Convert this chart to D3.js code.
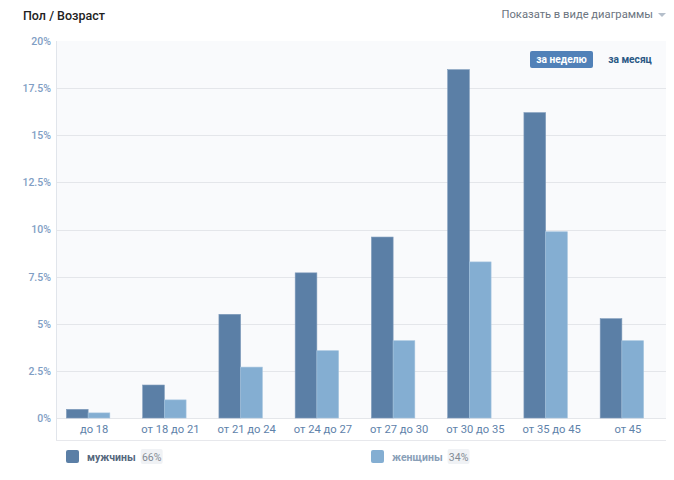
<!DOCTYPE html>
<html>
<head>
<meta charset="utf-8">
<script src="https://cdn.jsdelivr.net/npm/d3@7"></script>
<style>
  body { margin: 0; background: #fff; font-family: Roboto, "Open Sans", sans-serif; }
  svg text { font-family: Roboto, "Open Sans", sans-serif; }
</style>
</head>
<body>
<svg id="chart" width="674" height="480"></svg>
<script>
// age groups and shares (percent)
var ageGroups = ["до 18", "от 18 до 21", "от 21 до 24", "от 24 до 27", "от 27 до 30", "от 30 до 35", "от 35 до 45", "от 45"];
var maleValues = [0.46, 1.75, 5.5, 7.7, 9.6, 18.48, 16.2, 5.27];
var femaleValues = [0.27, 0.96, 2.7, 3.57, 4.1, 8.28, 9.88, 4.1];
var yTicks = [0, 2.5, 5, 7.5, 10, 12.5, 15, 17.5, 20];
var legendItems = [{name: "мужчины", share: "66%"}, {name: "женщины", share: "34%"}];

var maleColor = "#5b7fa6", femaleColor = "#84aed2";

var svg = d3.select("#chart");
var plotLeft = 56, plotRight = 666, plotTop = 41, plotBottom = 418;

var x = d3.scaleBand().domain(ageGroups).range([plotLeft, plotRight]);
var y = d3.scaleLinear().domain([0, 20]).range([plotBottom, plotTop]);

//title
svg.append("text").attr("x", 23).attr("y", 20)
    .attr("font-size", 12.5).attr("font-weight", 500).attr("fill", "#222")
    .text("Пол / Возраст");

svg.append("text").attr("x", 653).attr("y", 18).attr("text-anchor", "end")
    .attr("font-size", 11.2).attr("fill", "#6b7480")
    .text("Показать в виде диаграммы");
svg.append("path").attr("d", "M658,13 L666,13 L662,17 Z").attr("fill", "#b5bfcb");

//plot background
svg.append("rect").attr("x", plotLeft).attr("y", plotTop)
    .attr("width", plotRight - plotLeft).attr("height", plotBottom - plotTop)
    .attr("fill", "#f9fafc");

//grid
svg.append("g").selectAll("line")
    .data(yTicks.filter(function(d) { return d < 20; }))
    .enter().append("line")
    .attr("x1", plotLeft).attr("x2", plotRight)
    .attr("y1", function(d) { return Math.round(y(d)) + 0.5; })
    .attr("y2", function(d) { return Math.round(y(d)) + 0.5; })
    .attr("stroke", "#e4e6ea").attr("stroke-width", 1.2);

//axis lines
svg.append("line").attr("x1", plotLeft + 0.5).attr("x2", plotLeft + 0.5).attr("y1", plotTop).attr("y2", 440)
    .attr("stroke", "#e1e5eb");
svg.append("line").attr("x1", plotLeft).attr("x2", plotRight).attr("y1", 440.5).attr("y2", 440.5)
    .attr("stroke", "#e7e8ec");

//y labels
var yAxis = d3.axisLeft(y).tickValues(yTicks).tickSize(0).tickPadding(5)
    .tickFormat(function(d) { return d + "%"; });
var yg = svg.append("g").attr("transform", "translate(" + plotLeft + ",0)").call(yAxis);
yg.select(".domain").remove();
yg.selectAll("text").attr("font-size", 10.5).attr("font-weight", 500).attr("fill", "#7f9ec4")
    .attr("font-family", "Roboto, sans-serif");

//x labels
var xAxis = d3.axisBottom(x).tickSize(0).tickPadding(7);
var xg = svg.append("g").attr("transform", "translate(0," + plotBottom + ")").call(xAxis);
xg.select(".domain").remove();
xg.selectAll("text").attr("font-size", 11.2).attr("fill", "#5e82aa")
    .attr("font-family", "Roboto, sans-serif");

//bars
var bw = 21.7;
var groups = svg.append("g").selectAll("g")
    .data(ageGroups)
    .enter().append("g")
    .attr("transform", function(d) { return "translate(" + (x(d) + x.bandwidth() / 2 - 6) + ",0)"; });

groups.append("rect")
    .attr("x", -bw)
    .attr("width", bw)
    .attr("y", function(d, i) { return y(maleValues[i]); })
    .attr("height", function(d, i) { return plotBottom - y(maleValues[i]); })
    .attr("fill", maleColor)
    .attr("stroke", "#7f9bbb").attr("stroke-width", 0.6);

groups.append("rect")
    .attr("x", 0)
    .attr("width", bw)
    .attr("y", function(d, i) { return y(femaleValues[i]); })
    .attr("height", function(d, i) { return plotBottom - y(femaleValues[i]); })
    .attr("fill", femaleColor)
    .attr("stroke", "#a3c3de").attr("stroke-width", 0.6);

//period buttons
svg.append("rect").attr("x", 530).attr("y", 51).attr("width", 63).attr("height", 17).attr("rx", 2)
    .attr("fill", "#5181b8");
svg.append("text").attr("x", 561.5).attr("y", 63).attr("text-anchor", "middle")
    .attr("font-size", 10.2).attr("font-weight", 700).attr("fill", "#fff").text("за неделю");
svg.append("text").attr("x", 630).attr("y", 63).attr("text-anchor", "middle")
    .attr("font-size", 10.2).attr("font-weight", 700).attr("fill", "#2a5885").text("за месяц");

//legend
var legendX = [66, 371];
var lg = svg.append("g").selectAll("g")
    .data(legendItems)
    .enter().append("g")
    .attr("transform", function(d, i) { return "translate(" + legendX[i] + ",450)"; });
lg.append("rect").attr("width", 13).attr("height", 13).attr("rx", 2)
    .attr("fill", function(d, i) { return i === 0 ? maleColor : femaleColor; });
lg.append("text").attr("x", 21).attr("y", 10.5)
    .attr("font-size", 10.5).attr("font-weight", 700).attr("fill", function(d, i) { return i === 0 ? "#55677d" : "#8aa0b8"; })
    .text(function(d) { return d.name; });
lg.each(function(d) {
    var g = d3.select(this);
    var w = g.select("text").node().getComputedTextLength();
    g.append("rect").attr("x", 21 + w + 5).attr("y", -1).attr("width", 22).attr("height", 15).attr("rx", 2)
        .attr("fill", "#f0f2f5");
    g.append("text").attr("x", 21 + w + 16).attr("y", 10.5).attr("text-anchor", "middle")
        .attr("font-size", 10.5).attr("fill", "#828a94").text(d.share);
});
</script>
</body>
</html>
